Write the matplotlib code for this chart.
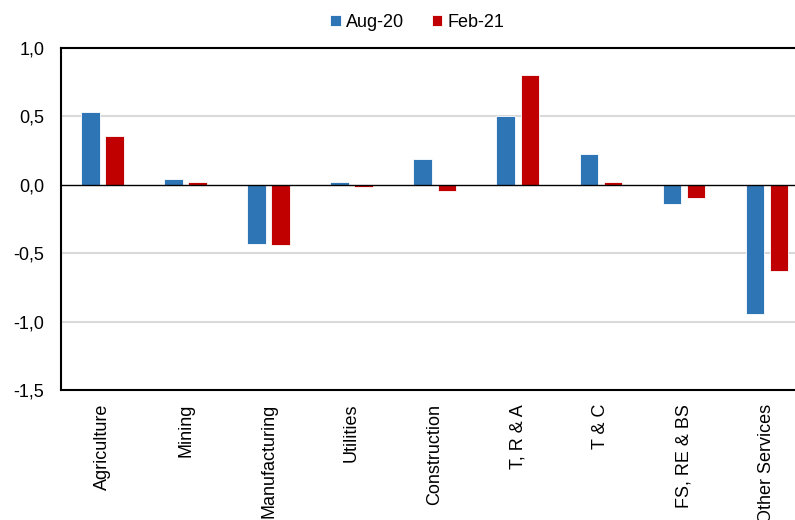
import matplotlib
matplotlib.use("Agg")
import numpy as np
from matplotlib import pyplot as plt
from matplotlib.ticker import FuncFormatter

plt.rcParams["font.family"] = ["Liberation Sans", "DejaVu Sans"]

sectors = [
    "Agriculture", "Mining", "Manufacturing", "Utilities", "Construction",
    "T, R & A", "T & C", "FS, RE & BS", "Other Services",
]
aug_20 = [0.53, 0.045, -0.43, 0.02, 0.19, 0.50, 0.225, -0.14, -0.945]
feb_21 = [0.36, 0.02, -0.44, -0.015, -0.045, 0.805, 0.02, -0.095, -0.63]
y_ticks = [1.0, 0.5, 0.0, -0.5, -1.0, -1.5]

BLUE = "#2E75B6"
RED = "#C00000"

fig = plt.figure(figsize=(7.95, 5.2), dpi=100)
ax = fig.add_axes([0.0767, 0.25, 0.94, 0.6577])

x = np.arange(len(sectors))
w = 0.22
off = 0.145
ax.bar(x - off, aug_20, w, color=BLUE, edgecolor="white", linewidth=0.6,
       label="Aug-20", zorder=3)
ax.bar(x + off, feb_21, w, color=RED, edgecolor="white", linewidth=0.6,
       label="Feb-21", zorder=3)

ax.set_xlim(-0.5, len(sectors) - 0.5)
ax.set_ylim(-1.5, 1.0)
ax.set_yticks(y_ticks)
ax.yaxis.set_major_formatter(FuncFormatter(lambda v, _: f"{v:.1f}".replace(".", ",")))
ax.set_xticks(x)
ax.set_xticklabels(sectors, rotation=90, va="top", ha="center")
ax.tick_params(axis="both", length=0, labelsize=13, colors="#000000")
ax.tick_params(axis="x", pad=10)
ax.tick_params(axis="y", pad=12)

for v in [0.5, -0.5, -1.0]:
    ax.axhline(v, color="#D9D9D9", linewidth=1.5, zorder=1)
ax.axhline(0, color="black", linewidth=1.0, zorder=4)

for side in ["left", "top", "bottom"]:
    ax.spines[side].set_linewidth(1.5)
    ax.spines[side].set_color("black")
ax.spines["right"].set_visible(False)

fig.legend(loc="upper center", bbox_to_anchor=(0.525, 1.005), ncol=2, frameon=False,
           fontsize=13, handlelength=0.6, handleheight=0.6, handletextpad=0.3,
           columnspacing=1.5)

fig.savefig("out.png", dpi=100)
